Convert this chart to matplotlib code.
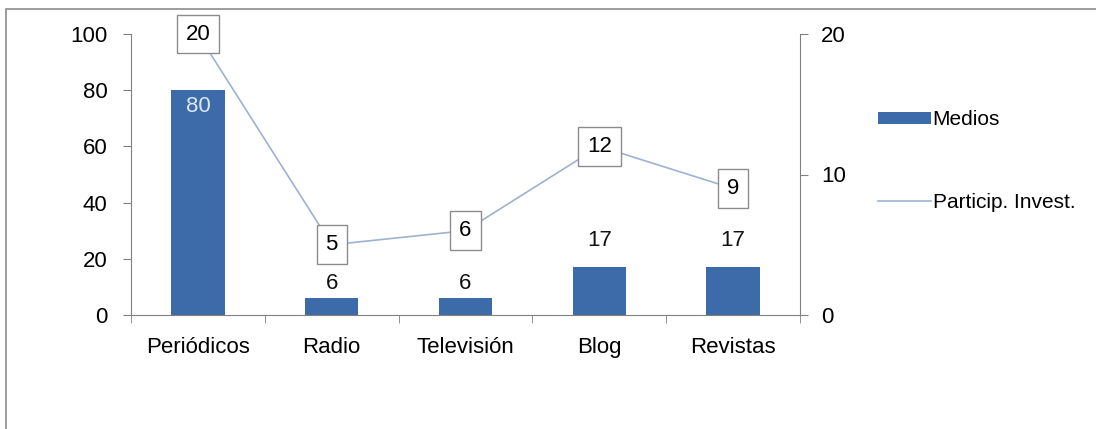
import matplotlib.pyplot as plt
from matplotlib.lines import Line2D
from matplotlib.patches import Patch, Rectangle
import numpy as np

plt.rcParams['font.family'] = ['Liberation Sans', 'DejaVu Sans']

categorias = ['Periódicos', 'Radio', 'Televisión', 'Blog', 'Revistas']
medios = [80, 6, 6, 17, 17]
particip = [20, 5, 6, 12, 9]

bar_color = '#3D6AA8'
line_color = '#9DB2D0'
axis_color = '#808080'
fs = 16

fig = plt.figure(figsize=(10.96, 4.29), dpi=100)
ax = fig.add_axes([131 / 1096, 1 - 315 / 429, (800 - 131) / 1096, (315 - 34) / 429])
ax2 = ax.twinx()

x = np.arange(len(categorias))
ax.bar(x, medios, width=0.4, color=bar_color, zorder=2)
ax.set_xlim(-0.5, len(categorias) - 0.5)
ax.set_ylim(0, 100)
ax.set_yticks([0, 20, 40, 60, 80, 100])
ax.set_xticks(x)
ax.set_xticklabels(categorias, fontsize=fs)
ax.set_xticks(np.arange(-0.5, len(categorias)), minor=True)
ax.tick_params(axis='x', which='major', length=0, pad=16)
ax.tick_params(axis='x', which='minor', length=6, color=axis_color, direction='out')
ax.tick_params(axis='y', labelsize=fs, length=6, color=axis_color, pad=11)

# etiquetas de las barras
for xi, v in zip(x, medios):
    if v > 50:
        ax.annotate(str(v), (xi, v), xytext=(0, -4), textcoords='offset points',
                    ha='center', va='top', fontsize=fs, color='#DCE8F5')
    else:
        ax.annotate(str(v), (xi, v), xytext=(0, 3 if v < 10 else 12), textcoords='offset points',
                    ha='center', va='bottom', fontsize=fs, color='#111111')

ax2.plot(x, particip, color=line_color, linewidth=1.2, zorder=3)
ax2.set_ylim(0, 20)
ax2.set_yticks([0, 10, 20])
ax2.tick_params(axis='y', labelsize=fs, length=6, color=axis_color, pad=9)

for xi, v in zip(x, particip):
    ax2.text(xi, v, str(v), ha='center', va='center', fontsize=fs, zorder=4,
             bbox=dict(boxstyle='square,pad=0.4', facecolor='white', edgecolor='#8C8C8C', linewidth=1))

for a in (ax, ax2):
    a.spines['top'].set_visible(False)
    for s in ('left', 'right', 'bottom'):
        a.spines[s].set_color(axis_color)
ax2.spines['left'].set_visible(False)
ax2.spines['bottom'].set_visible(False)
ax.spines['right'].set_visible(False)

handles = [Patch(facecolor=bar_color, edgecolor='none', label='Medios'),
           Line2D([], [], color=line_color, linewidth=1.2, label='Particip. Invest.')]
fig.legend(handles=handles, loc='upper left', bbox_to_anchor=(868 / 1096, 1 - 100 / 429),
           frameon=False, fontsize=15, handlelength=2.5, handleheight=0.5,
           handletextpad=0.1, labelspacing=3.05, borderpad=0)

# marco exterior
fig.patches.append(Rectangle((6 / 1096, -0.1), 1.2, 1 - 9 / 429 + 0.1, transform=fig.transFigure,
                             fill=False, edgecolor='#8C8C8C', linewidth=1.2))

fig.savefig('out.png', dpi=100)
